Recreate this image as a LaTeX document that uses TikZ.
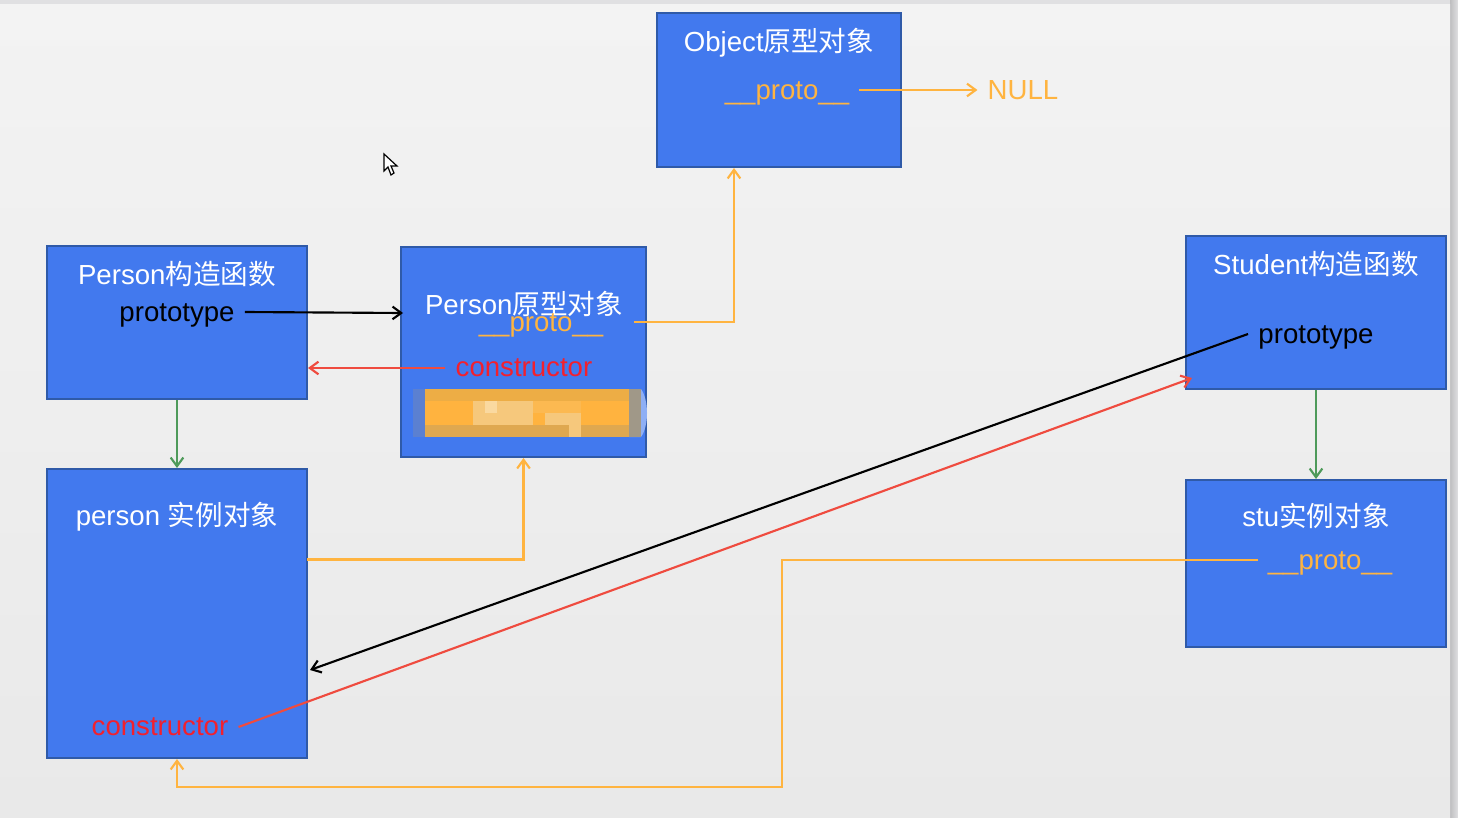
\documentclass[tikz,border=0pt]{standalone}
\usepackage{fontspec}
\usepackage{xcolor}
\setmainfont{Liberation Sans}
\newfontfamily\cjk{Noto Sans CJK SC}
\usetikzlibrary{arrows.meta,positioning,calc}
\definecolor{rkblue}{HTML}{4279EE}
\definecolor{rkedge}{HTML}{2F5AA8}
\definecolor{rkorange}{HTML}{FFB440}
\definecolor{rkred}{HTML}{EF4B3F}
\definecolor{rkctor}{HTML}{F2202E}
\definecolor{rkgreen}{HTML}{4E9A5A}
\definecolor{rkpatch}{HTML}{FFB33F}
\definecolor{rkpatchtop}{HTML}{EDAD45}
\definecolor{rkpatchlow}{HTML}{DFA850}
\definecolor{rkpatchgrey}{HTML}{A09888}
\definecolor{rkpatchfade}{HTML}{6B84BE}
\definecolor{rkpale}{HTML}{F6C87C}
\definecolor{rkpaler}{HTML}{FAD9A0}
\definecolor{rkpagetop}{HTML}{F3F3F3}
\definecolor{rkpagelow}{HTML}{E9E9E9}
\definecolor{rkframe}{HTML}{E0E0E2}
\tikzset{
  boxnode/.style={draw=rkedge, fill=rkblue, line width=1.5pt, inner sep=0pt},
  titlenode/.style={text=white, inner sep=10*0.75pt},
  blacknode/.style={text=black, inner sep=10*0.75pt},
  protonode/.style={text=rkorange, inner sep=10*0.75pt},
  ctornode/.style={text=rkctor, inner sep=10*0.75pt},
  link/.style={line width=1.6pt, -{Straight Barb[length=6.5pt,width=9.5pt]}},
}
\begin{document}
\begin{tikzpicture}[x=0.75pt, y=-0.75pt, font=\fontsize{20.7}{25}\selectfont]
  \useasboundingbox (0,0) rectangle (1458,817);
  % page behind the slide
  \fill[rkframe] (0,0) rectangle (1458,817);
  \shade[left color=rkframe!85!black, right color=rkframe] (1450,0) rectangle (1458,817);
  \shade[top color=rkpagetop, bottom color=rkpagelow] (0,5) rectangle (1450,817);
  % mouse pointer
  \filldraw[fill=white, draw=black, line width=0.9pt] (384,154) -- (384,171) -- (388,167) -- (391,175) -- (394,173) -- (391,166) -- (397,166) -- cycle;
  % boxes
  \node[boxnode, minimum width=244*0.75pt, minimum height=154*0.75pt] (objbox) at (779,90) {};
  \node[boxnode, minimum width=260*0.75pt, minimum height=153*0.75pt] (ctorbox) at (177,322.5) {};
  \node[boxnode, minimum width=245*0.75pt, minimum height=210*0.75pt] (protobox) at (523.5,352) {};
  \node[boxnode, minimum width=260*0.75pt, minimum height=289*0.75pt] (instbox) at (177,613.5) {};
  \node[boxnode, minimum width=260*0.75pt, minimum height=153*0.75pt] (stuctorbox) at (1316,312.5) {};
  \node[boxnode, minimum width=260*0.75pt, minimum height=167*0.75pt] (stubox) at (1316,563.5) {};
  % blurred patch
  \fill[rkpatchfade!60!rkblue] (413,389) rectangle (425,437);
  \fill[rkblue!60!white] (629,389) -- (641,389) .. controls (649,400) and (649,426) .. (641,437) -- (629,437) -- cycle;
  \fill[rkpatch] (425,389) rectangle (629,437);
  \fill[rkpatchtop] (425,389) rectangle (629,401);
  \fill[rkpatchlow] (425,425) rectangle (629,437);
  \fill[rkpatchgrey] (629,389) rectangle (641,437);
  \foreach \x/\y/\w/\c in {473/401/12/rkpale, 485/401/12/rkpaler, 497/401/36/rkpale, 533/401/48/rkpatch!70!rkpale, 473/413/60/rkpale, 545/413/36/rkpale, 569/425/12/rkpale}
    \fill[\c] (\x,\y) rectangle ++(\w,12);
  % labels
  \node[titlenode] (objtitle) at (779,43) {Object{\cjk 原型对象}};
  \node[protonode] (objproto) at (787,93) {\_\_proto\_\_};
  \node[protonode] (nulltext) at (1023,90.5) {NULL};
  \node[titlenode] (ctortitle) at (177,274) {Person{\cjk 构造函数}};
  \node[blacknode] (ctorprototype) at (177,315.5) {prototype};
  \node[titlenode] (prototitle) at (524,303.5) {Person{\cjk 原型对象}};
  \node[protonode] (protoproto) at (541,325) {\_\_proto\_\_};
  \node[ctornode] (protoctor) at (524,368) {constructor};
  \node[titlenode] (insttitle) at (177,517) {person {\cjk 实例对象}};
  \node[ctornode] (instctor) at (160,727) {constructor};
  \node[titlenode] (stuctortitle) at (1316,264) {Student{\cjk 构造函数}};
  \node[blacknode] (stuctorprototype) at (1316,337) {prototype};
  \node[titlenode] (stutitle) at (1316,516) {stu{\cjk 实例对象}};
  \node[protonode] (stuproto) at (1330,563) {\_\_proto\_\_};
  % free ends
  \coordinate (objin) at (734,168);
  \coordinate (instout) at (307,559.5);
  \coordinate (instin) at (177,759);
  \coordinate (instback) at (310,670);
  \coordinate (stuin) at (1192,378);
  \coordinate (stubend) at (782,787);
  \coordinate (stuctorout) at (1248,334);
  \coordinate (protoin) at (403,313);
  % connectors
  \draw[link, black] (ctorprototype.east |- 0,312) -- (protoin);
  \draw[link, rkred] (protoctor.west) -- (ctorbox.east |- protoctor.west);
  \draw[link, rkgreen] (ctorbox.south) -- (instbox.north);
  \draw[link, rkgreen] (stuctorbox.south) -- (stubox.north);
  \draw[link, rkorange] (objproto.east |- 0,90) -- (nulltext.west |- 0,90);
  \draw[link, rkorange] (protoproto.east |- 0,322) ++(21,0) -| (objin);
  \draw[link, rkorange] (instout) -| (protobox.south);
  \draw[link, rkorange] (stuproto.west |- 0,560) -| (stubend) -| (instin);
  \draw[link, black] (stuctorout) -- (instback);
  \draw[link, rkred] (instctor.east) -- (stuin);
\end{tikzpicture}
\end{document}
